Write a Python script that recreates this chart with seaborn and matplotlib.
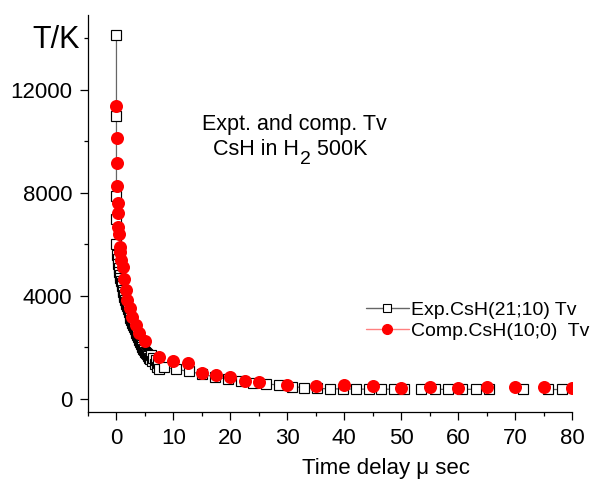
import matplotlib
matplotlib.use("Agg")
import matplotlib.pyplot as plt
import numpy as np
import pandas as pd
import seaborn as sns
from matplotlib.lines import Line2D
from matplotlib.ticker import FixedLocator, MultipleLocator

# Experimental vibrational temperature of CsH (open squares).
# exp_segment splits the record where samples are missing, so the
# connecting line is not drawn across those gaps.
exp_time = [0, 0, 0, 0, 0,
            0.1, 0.2, 0.3, 0.4, 0.5, 0.6, 0.7, 0.8, 0.9, 1.0, 1.1, 1.2, 1.3,
            1.4, 1.5, 1.6, 1.7, 1.85, 2.0, 2.15, 2.3, 2.45, 2.6, 2.75, 2.9,
            3.05, 3.2, 3.35, 3.5, 3.65, 3.8, 3.95, 4.1, 4.25, 4.4, 4.55, 4.7,
            4.85, 5.0, 5.15, 5.3, 5.45, 5.6, 5.75, 5.9,
            6.1, 6.3, 6.5, 6.7, 6.9, 7.1, 7.3, 7.5,
            8.3, 10.5, 12.8, 15.0, 17.3, 19.5, 21.8, 24.0, 26.3, 28.5, 30.8,
            33.0, 35.3, 37.5, 39.8, 42.0, 44.3, 46.5, 48.8, 50.5,
            53.5, 55.9, 58.3, 60.7, 63.1, 65.5,
            71.4,
            75.8, 78.2]
exp_temp = [14130, 11000, 7900, 7000, 6000,
            5600, 5420, 5250, 5100, 4950, 4820, 4700, 4600, 4500, 4370, 4250,
            4150, 4050, 3950, 3850, 3780, 3700, 3600, 3500, 3370, 3250, 3150,
            3050, 2960, 2880, 2800, 2730, 2640, 2560, 2480, 2400, 2310, 2230,
            2150, 2080, 2010, 1950, 1890, 1840, 1790, 1740, 1690, 1650, 1600,
            1560,
            1700, 1480, 1600, 1350, 1500, 1250, 1380, 1180,
            1230, 1150, 1070, 960, 860, 770, 690, 640, 590, 540, 480,
            440, 410, 395, 390, 385, 380, 380, 380, 375,
            380, 375, 375, 375, 375, 375,
            375,
            375, 375]
exp_segment = [0] * 78 + [1] * 6 + [2] + [3] * 2

# Computed vibrational temperature (filled circles).
comp_time = [0, 0.02, 0.05, 0.1, 0.2, 0.3, 0.35, 0.5, 0.55, 0.65, 0.8, 1.1,
             1.3, 1.6, 1.9, 2.3, 2.8, 3.4, 4.0, 5.0,
             7.5, 10, 12.5, 15, 17.5, 20, 22.5, 25, 30, 35, 40, 45, 50, 55,
             60, 65, 70, 75, 80]
comp_temp = [11380, 10130, 9160, 8270, 7600, 7220, 6690, 6410, 5920, 5720,
             5400, 5110, 4650, 4230, 3840, 3520, 3200, 2870, 2550, 2250,
             1640, 1475, 1385, 1020, 930, 840, 700, 650, 545, 515, 530, 515,
             440, 480, 415, 450, 450, 480, 440]

x_ticks = [0, 10, 20, 30, 40, 50, 60, 70, 80]
y_ticks = [0, 4000, 8000, 12000]

exp_label = "Exp.CsH(21;10) Tv"
comp_label = "Comp.CsH(10;0)  Tv"

sns.set_theme(style="ticks")
plt.rcParams.update({
    "font.family": ["Liberation Sans", "DejaVu Sans"],
    "axes.linewidth": 0.9,
    "axes.edgecolor": "black",
    "axes.labelcolor": "black",
    "xtick.color": "black",
    "ytick.color": "black",
    "xtick.labelcolor": "black",
    "ytick.labelcolor": "black",
    "text.color": "black",
})

exp_df = pd.DataFrame({"time": exp_time, "temp": exp_temp,
                       "segment": exp_segment})
comp_df = pd.DataFrame({"time": comp_time, "temp": comp_temp})

fig = plt.figure(figsize=(5.9, 4.79), dpi=100)
ax = fig.add_axes([88 / 590, 1 - 412 / 479, (572 - 88) / 590, (412 - 15) / 479])

sns.lineplot(data=exp_df, x="time", y="temp", units="segment",
             estimator=None, sort=False, ax=ax, color="#666666", lw=0.9,
             marker="s", markersize=7.5, markerfacecolor="white",
             markeredgecolor="black", markeredgewidth=0.85, legend=False)
sns.scatterplot(data=comp_df, x="time", y="temp", ax=ax, color="red",
                s=88, linewidth=0, legend=False, zorder=3)

ax.set_xlim(-5, 80)
ax.set_ylim(-505, 14910)
ax.xaxis.set_major_locator(FixedLocator(x_ticks))
ax.xaxis.set_minor_locator(MultipleLocator(5))
ax.yaxis.set_major_locator(FixedLocator(y_ticks))
ax.yaxis.set_minor_locator(MultipleLocator(2000))
ax.tick_params(which="major", length=5.8, width=0.9, labelsize=16,
               direction="out", pad=5.5)
ax.tick_params(which="minor", length=3, width=0.9, direction="out")
sns.despine(ax=ax)

ax.set_ylabel("")
ax.set_xlabel("Time delay \u03bc sec", fontsize=16, color="black")
ax.xaxis.set_label_coords(0.616, -0.115)

fig.text(80 / 590, 1 - 40 / 479, "T/K", ha="right", va="center", fontsize=22)

# Caption inside the plot area
fig.text(294 / 590, 1 - 130 / 479, "Expt. and comp. Tv", ha="center",
         va="baseline", fontsize=15.5)
t1 = fig.text(213 / 590, 1 - 155 / 479, "CsH in H", ha="left",
              va="baseline", fontsize=15.5)
t2 = ax.annotate("2", xy=(1, 0), xycoords=t1, xytext=(1.0, -6),
                 textcoords="offset points", ha="left", va="bottom",
                 fontsize=14, annotation_clip=False)
ax.annotate(" 500K", xy=(1, 0), xycoords=(t2, t1), xytext=(0, 0),
            textcoords="offset points", ha="left", va="bottom",
            fontsize=15.5, annotation_clip=False)

handles = [
    Line2D([], [], color="#666666", lw=1.0, marker="s", markersize=5.5,
           markerfacecolor="white", markeredgecolor="black",
           markeredgewidth=0.8),
    Line2D([], [], color="#ff8080", lw=1.0, marker="o", markersize=7,
           markerfacecolor="red", markeredgecolor="red"),
]
fig.legend(handles, [exp_label, comp_label], loc="upper left",
           bbox_to_anchor=(366 / 590, 1 - 301 / 479), frameon=False,
           fontsize=14, handlelength=2.2, handletextpad=0.1,
           labelspacing=0.2, borderpad=0, borderaxespad=0)

fig.savefig("out.png", dpi=100)
